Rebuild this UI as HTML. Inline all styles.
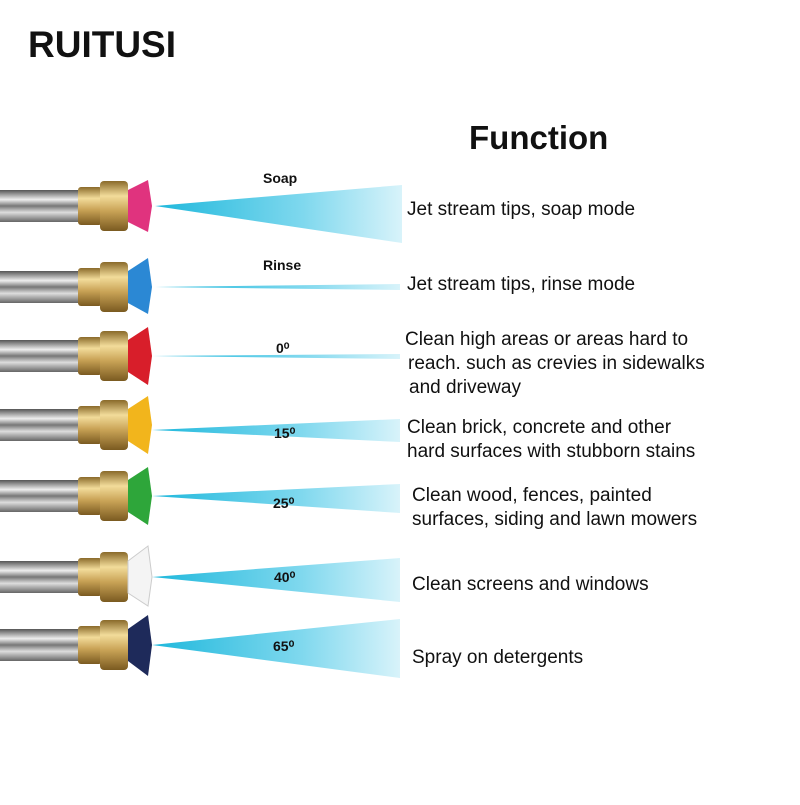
<!DOCTYPE html>
<html><head><meta charset="utf-8"><style>
body{margin:0;background:#fff;width:800px;height:800px;overflow:hidden}
svg text{font-family:"Liberation Sans",sans-serif}
</style></head><body>
<svg width="800" height="800" viewBox="0 0 800 800">
<defs>
<linearGradient id="sp" x1="0" x2="1"><stop offset="0" stop-color="#1fb8dc"/><stop offset="0.6" stop-color="#7fd8ee"/><stop offset="1" stop-color="#d8f3fa"/></linearGradient>
<linearGradient id="rod" x1="0" y1="0" x2="0" y2="1"><stop offset="0" stop-color="#555"/><stop offset="0.3" stop-color="#eee"/><stop offset="0.5" stop-color="#777"/><stop offset="0.7" stop-color="#ddd"/><stop offset="1" stop-color="#666"/></linearGradient>
<linearGradient id="brass" x1="0" y1="0" x2="0" y2="1"><stop offset="0" stop-color="#8a6a2a"/><stop offset="0.3" stop-color="#f2dc9a"/><stop offset="0.6" stop-color="#c9a356"/><stop offset="1" stop-color="#7a5a20"/></linearGradient>
<g id="fit">
<rect x="0" y="-16" width="80" height="32" fill="url(#rod)"/>
<rect x="78" y="-19" width="24" height="38" rx="3" fill="url(#brass)"/>
<rect x="100" y="-25" width="28" height="50" rx="4" fill="url(#brass)"/>
</g>
</defs>
<text x="28" y="57" font-size="37" font-weight="bold" fill="#111">RUITUSI</text>
<text x="469" y="149" font-size="33" font-weight="bold" fill="#111">Function</text>

<polygon points="155,206 402,185 402,243" fill="url(#sp)"/>
<polygon points="155,287 400,284 400,290" fill="url(#sp)"/>
<polygon points="152,356 400,354 400,359" fill="url(#sp)"/>
<polygon points="152,430 400,419 400,442" fill="url(#sp)"/>
<polygon points="152,496 400,484 400,513" fill="url(#sp)"/>
<polygon points="152,577 400,558 400,602" fill="url(#sp)"/>
<polygon points="152,645 400,619 400,678" fill="url(#sp)"/>

<use href="#fit" y="206"/><path d="M128,190 L148,180 L152,206 L148,232 L128,222Z" fill="#e0337e"/>
<use href="#fit" y="287"/><path d="M128,271 L148,258 L152,287 L148,314 L128,303Z" fill="#2b88d4"/>
<use href="#fit" y="356"/><path d="M128,340 L148,327 L152,356 L148,385 L128,372Z" fill="#d81e2a"/>
<use href="#fit" y="425"/><path d="M128,409 L148,396 L152,425 L148,454 L128,441Z" fill="#f2b51c"/>
<use href="#fit" y="496"/><path d="M128,480 L148,467 L152,496 L148,525 L128,512Z" fill="#2ea63a"/>
<use href="#fit" y="577"/><path d="M128,561 L148,546 L152,577 L148,606 L128,593Z" fill="#f4f4f4" stroke="#ccc"/>
<use href="#fit" y="645"/><path d="M128,629 L148,615 L152,645 L148,676 L128,661Z" fill="#1e2a5a"/>

<g font-weight="bold" font-size="14" fill="#111">
<text x="263" y="183">Soap</text><text x="263" y="270">Rinse</text>
<text x="276" y="353">0⁰</text><text x="274" y="438">15⁰</text><text x="273" y="508">25⁰</text>
<text x="274" y="582">40⁰</text><text x="273" y="651">65⁰</text>
</g>
<g font-size="19" fill="#111">
<text x="407" y="215">Jet stream tips, soap mode</text>
<text x="407" y="290">Jet stream tips, rinse mode</text>
<text x="405" y="345">Clean high areas or areas hard to</text>
<text x="408" y="369">reach. such as crevies in sidewalks</text>
<text x="409" y="393">and driveway</text>
<text x="407" y="433">Clean brick, concrete and other</text>
<text x="407" y="457">hard surfaces with stubborn stains</text>
<text x="412" y="501">Clean wood, fences, painted</text>
<text x="412" y="525">surfaces, siding and lawn mowers</text>
<text x="412" y="590">Clean screens and windows</text>
<text x="412" y="663">Spray on detergents</text>
</g>
</svg>
</body></html>
